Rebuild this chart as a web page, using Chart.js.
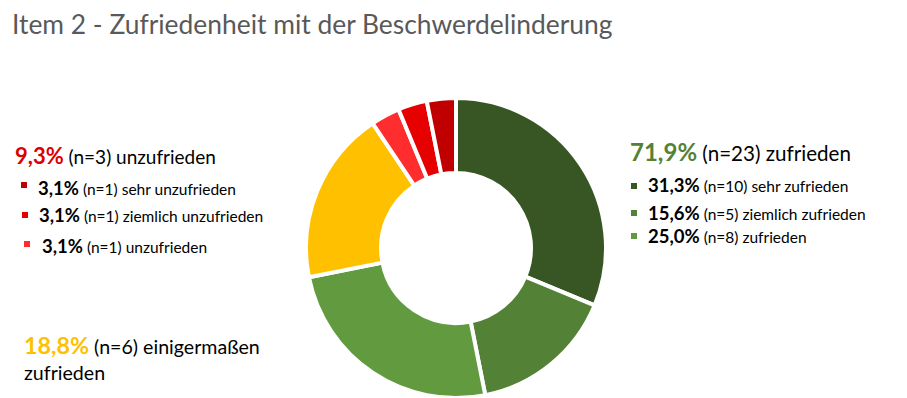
<!DOCTYPE html>
<html><head><meta charset="utf-8">
<script src="https://cdn.jsdelivr.net/npm/chart.js@4/dist/chart.umd.min.js"></script>
<style>
html,body{margin:0;padding:0;background:#fff;}
body{width:907px;height:398px;position:relative;overflow:hidden;font-family:Lato,"Open Sans",sans-serif;color:#000;}
.t{position:absolute;white-space:nowrap;line-height:1;}
#title{left:12px;top:11px;font-size:26.4px;color:#595959;}
.big{font-size:19px;}
.big b{font-size:22px;}
.bigR{font-size:20.6px;}
.bigR b{font-size:24px;}
.bigM{font-size:19.6px;}
.bigM b{font-size:23.3px;}
.sub{font-size:15.5px;}
.sub b{font-size:18.5px;}
.sq{position:absolute;width:6px;height:6px;}
#c{position:absolute;left:304px;top:96px;}
</style></head><body>
<div id="title" class="t"></div>
<div id="notes"></div>
<canvas id="c" width="304" height="304"></canvas>
<script>
const categories = ["sehr zufrieden","ziemlich zufrieden","zufrieden","einigermaßen zufrieden","unzufrieden","ziemlich unzufrieden","sehr unzufrieden"];
const counts = [10,5,8,6,1,1,1];
const percentLabels = ["31,3%","15,6%","25,0%","18,8%","3,1%","3,1%","3,1%"];
const colors = ["#375623","#538135","#629b3f","#ffc000","#ff2d2d","#e60000","#c00000"];
const groupLabels = {pos:"71,9%", neg:"9,3%", mid:"18,8%"};
const titleText = "Item 2 - Zufriedenheit mit der Beschwerdelinderung";

document.getElementById('title').textContent = titleText;

const notes = document.getElementById('notes');
function addText(html, left, baseline, cls, fontPx){
  const d=document.createElement('div');
  d.className='t '+cls; d.innerHTML=html;
  d.style.left=left+'px'; d.style.top=(baseline - fontPx*0.88)+'px';
  notes.appendChild(d);
}
function addSq(left, top, color){
  const d=document.createElement('div'); d.className='sq';
  d.style.left=left+'px'; d.style.top=top+'px'; d.style.background=color;
  notes.appendChild(d);
}
// negative group (left)
addText('<b style="color:#dc0000">'+groupLabels.neg+'</b> (n=3) unzufrieden',15,164,'big',22);
addSq(21,182,colors[6]); addText('<b>'+percentLabels[6]+'</b> (n=1) '+categories[6],38,195,'sub',18.5);
addSq(22,212,colors[5]); addText('<b>'+percentLabels[5]+'</b> (n=1) '+categories[5],39,222,'sub',18.5);
addSq(24,241,colors[4]); addText('<b>'+percentLabels[4]+'</b> (n=1) '+categories[4],42,253,'sub',18.5);
// positive group (right)
addText('<b style="color:#548235">'+groupLabels.pos+'</b> (n=23) zufrieden',630,161,'bigR',24);
addSq(631,183,colors[0]); addText('<b>'+percentLabels[0]+'</b> (n=10) '+categories[0],648,192,'sub',18.5);
addSq(631,210,colors[1]); addText('<b>'+percentLabels[1]+'</b> (n=5) '+categories[1],648,220,'sub',18.5);
addSq(631,233,colors[2]); addText('<b>'+percentLabels[2]+'</b> (n=8) '+categories[2],648,243,'sub',18.5);
// middle
addText('<b style="color:#ffc000">'+groupLabels.mid+'</b> (n=6) einigermaßen',24,355,'bigM',23.3);
addText('zufrieden',24,380,'bigM',19.6);

new Chart(document.getElementById('c'),{
  type:'doughnut',
  data:{labels:categories,datasets:[{data:counts,backgroundColor:colors,borderColor:'#ffffff',borderWidth:4}]},
  options:{responsive:false,animation:false,cutout:'50%',layout:{padding:0},
    plugins:{legend:{display:false},tooltip:{enabled:false},title:{display:false}}}
});
</script>
</body></html>
